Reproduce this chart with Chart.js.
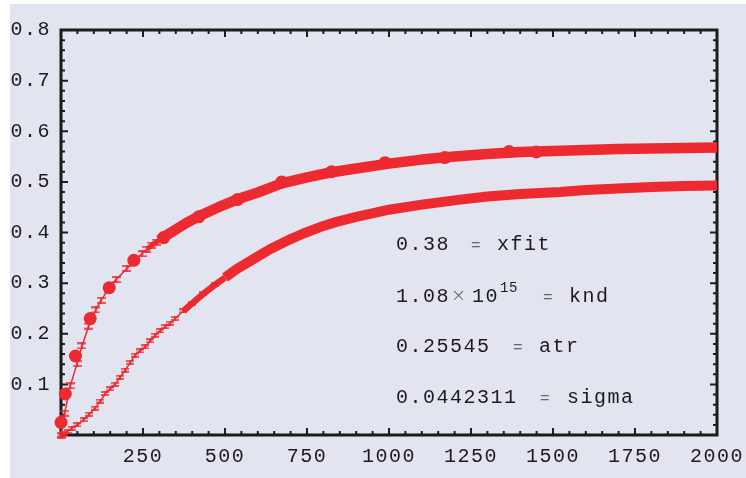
<!DOCTYPE html>
<html>
<head>
<meta charset="utf-8">
<script src="https://cdn.jsdelivr.net/npm/chart.js@4/dist/chart.umd.min.js"></script>
<style>
  html, body { margin: 0; padding: 0; background: #ffffff; }
  canvas { display: block; }
</style>
</head>
<body>
<canvas id="c" width="746" height="478" style="width:746px;height:478px"></canvas>
<script>
// Measured points (filled circles)
const measuredX = [0, 13, 44, 89, 147, 222, 313, 420, 538, 673, 825, 988, 1170, 1366, 1449];
const measuredY = [0.025, 0.081, 0.156, 0.230, 0.291, 0.345, 0.390, 0.431, 0.465, 0.500, 0.520, 0.538, 0.548, 0.560, 0.559];

// Upper fitted curve, sampled where its error bars sit
const upperX = [0, 11, 28, 49, 64, 84, 106, 122, 145, 168, 201, 225, 247, 262, 277, 290, 300, 315, 338, 380, 420, 480, 540, 600, 673, 750, 825, 925, 1000, 1100, 1200, 1300, 1400, 1500, 1600, 1700, 1800, 1900, 2000];
const upperY = [0.000, 0.043, 0.097, 0.141, 0.176, 0.215, 0.247, 0.266, 0.288, 0.307, 0.329, 0.344, 0.358, 0.367, 0.375, 0.381, 0.385, 0.392, 0.401, 0.418, 0.432, 0.450, 0.466, 0.479, 0.497, 0.509, 0.519, 0.529, 0.536, 0.544, 0.550, 0.555, 0.559, 0.561, 0.563, 0.565, 0.566, 0.567, 0.568];

// Lower fitted curve
const lowerX = [0, 10, 20, 33, 50, 69, 86, 104, 120, 135, 150, 165, 180, 196, 211, 226, 241, 257, 272, 287, 303, 318, 333, 348, 373, 400, 434, 470, 500, 536, 580, 637, 700, 739, 800, 840, 900, 942, 1000, 1100, 1217, 1300, 1400, 1522, 1600, 1700, 1800, 1900, 2000];
const lowerY = [0.000, 0.003, 0.007, 0.013, 0.020, 0.030, 0.041, 0.053, 0.067, 0.082, 0.091, 0.100, 0.114, 0.128, 0.143, 0.158, 0.166, 0.174, 0.186, 0.197, 0.206, 0.214, 0.221, 0.230, 0.245, 0.260, 0.279, 0.297, 0.311, 0.328, 0.345, 0.367, 0.387, 0.398, 0.413, 0.421, 0.431, 0.437, 0.445, 0.455, 0.465, 0.471, 0.476, 0.480, 0.484, 0.487, 0.490, 0.492, 0.493];

// Fit parameters printed inside the frame
const paramValues = ['0.38', '1.08', '0.25545', '0.0442311'];
const paramExponents = ['', '15', '', ''];
const paramNames = ['xfit', 'knd', 'atr', 'sigma'];

const RED = '#ec2a30';
const INK = '#1c1c1c';
const PANEL = '#e2e4f0';
const FONT = '"Liberation Mono", "DejaVu Sans Mono", monospace';

// Beyond these x values the error bars merge into a solid band
const UPPER_BAND_FROM = 262;
const UPPER_SOLID_FROM = 300;
const LOWER_BAND_FROM = 350;
const LOWER_SOLID_FROM = 500;

function errorBarMark(w, h) {
  const c = document.createElement('canvas');
  c.width = w; c.height = h;
  const g = c.getContext('2d');
  g.strokeStyle = RED;
  g.lineWidth = 1.6;
  g.beginPath();
  g.moveTo(0, 1); g.lineTo(w, 1);
  g.moveTo(0, h - 1); g.lineTo(w, h - 1);
  g.moveTo(w / 2, 0); g.lineTo(w / 2, h);
  g.stroke();
  return c;
}
const upperMark = errorBarMark(9, 7);
const lowerMark = errorBarMark(8, 5);

const zip = (xs, ys) => xs.map((x, i) => ({ x, y: ys[i] }));

// Panel background, frame and inward ticks on all four sides
const framePlugin = {
  id: 'frame',
  beforeDraw(chart) {
    const ctx = chart.ctx;
    ctx.save();
    ctx.fillStyle = '#ffffff';
    ctx.fillRect(0, 0, chart.width, chart.height);
    ctx.fillStyle = PANEL;
    ctx.fillRect(10, 4, chart.width - 10, chart.height - 4);
    ctx.restore();
    ctx.letterSpacing = '1.5px';
  },
  beforeDatasetsDraw(chart) {
    const ctx = chart.ctx;
    const a = chart.chartArea;
    const xs = chart.scales.x, ys = chart.scales.y;
    ctx.save();
    ctx.letterSpacing = '0px';
    ctx.strokeStyle = INK;
    ctx.lineWidth = 2;
    ctx.beginPath();
    for (let v = 0; v <= 2000; v += 50) {
      const px = xs.getPixelForValue(v);
      const len = v % 250 === 0 ? 7 : 4;
      ctx.moveTo(px, a.bottom); ctx.lineTo(px, a.bottom - len);
      ctx.moveTo(px, a.top); ctx.lineTo(px, a.top + len);
    }
    for (let k = 0; k <= 40; k++) {
      const py = ys.getPixelForValue(k * 0.02);
      const len = k % 5 === 0 ? 7 : 4;
      ctx.moveTo(a.left, py); ctx.lineTo(a.left + len, py);
      ctx.moveTo(a.right, py); ctx.lineTo(a.right - len, py);
    }
    ctx.stroke();
    ctx.lineWidth = 3;
    ctx.strokeRect(a.left, a.top, a.right - a.left, a.bottom - a.top);
    ctx.restore();
  },
  afterDraw(chart) {
    const ctx = chart.ctx;
    ctx.save();
    ctx.fillStyle = INK;
    ctx.textBaseline = 'alphabetic';
    const x0 = 396;
    const baselines = [250, 301.5, 351.5, 402.5];
    const eqX = [471, 543, 513, 540];
    const nameX = [497, 569, 539, 567];
    for (let i = 0; i < paramValues.length; i++) {
      const b = baselines[i];
      ctx.font = '20px ' + FONT;
      ctx.letterSpacing = '1.5px';
      ctx.fillStyle = INK;
      ctx.fillText(paramValues[i], x0, b);
      if (paramExponents[i]) {
        ctx.letterSpacing = '0px';
        ctx.font = '300 18px "DejaVu Sans", sans-serif';
        ctx.fillStyle = '#555';
        ctx.fillText('\u00d7', 451, b - 1);
        ctx.font = '20px ' + FONT;
        ctx.letterSpacing = '1.5px';
        ctx.fillStyle = INK;
        ctx.fillText('10', 472, b);
        ctx.font = '14px ' + FONT;
        ctx.letterSpacing = '0.5px';
        ctx.fillText(paramExponents[i], 500, b - 10);
      }
      ctx.letterSpacing = '0px';
      ctx.font = '16px ' + FONT;
      ctx.fillStyle = '#666';
      ctx.fillText('=', eqX[i], b);
      ctx.font = '20px ' + FONT;
      ctx.letterSpacing = '1.5px';
      ctx.fillStyle = INK;
      ctx.fillText(paramNames[i], nameX[i], b);
    }
    ctx.restore();
    ctx.letterSpacing = '0px';
  }
};

new Chart(document.getElementById('c'), {
  type: 'scatter',
  data: {
    datasets: [
      {
        label: 'lower fit',
        data: zip(lowerX, lowerY),
        showLine: true,
        borderColor: RED,
        backgroundColor: RED,
        borderWidth: 1.5,
        borderCapStyle: 'butt',
        borderJoinStyle: 'round',
        tension: 0,
        pointStyle: lowerMark,
        pointRadius: c => (c.parsed && c.parsed.x < LOWER_SOLID_FROM ? 4 : 0),
        segment: {
          borderWidth: c => c.p0.parsed.x >= LOWER_SOLID_FROM ? 10 : (c.p0.parsed.x >= LOWER_BAND_FROM ? 6.5 : 1.5)
        },
        clip: { left: 10, top: 10, right: 0, bottom: 10 },
        order: 3
      },
      {
        label: 'upper fit',
        data: zip(upperX, upperY),
        showLine: true,
        borderColor: RED,
        backgroundColor: RED,
        borderWidth: 1.5,
        borderCapStyle: 'butt',
        borderJoinStyle: 'round',
        tension: 0,
        pointStyle: upperMark,
        pointRadius: c => (c.parsed && c.parsed.x < UPPER_SOLID_FROM ? 4 : 0),
        segment: {
          borderWidth: c => c.p0.parsed.x >= UPPER_SOLID_FROM ? 10.5 : (c.p0.parsed.x >= UPPER_BAND_FROM ? 5 : 1.5)
        },
        clip: { left: 10, top: 10, right: 0, bottom: 10 },
        order: 2
      },
      {
        label: 'measured',
        data: zip(measuredX, measuredY),
        pointStyle: 'circle',
        pointRadius: 6.5,
        pointBackgroundColor: RED,
        pointBorderWidth: 0,
        borderColor: RED,
        clip: false,
        order: 1
      }
    ]
  },
  options: {
    responsive: false,
    animation: false,
    devicePixelRatio: 1,
    layout: { padding: { top: 30, right: 29, left: 0, bottom: 0 } },
    plugins: { legend: { display: false }, tooltip: { enabled: false } },
    scales: {
      x: {
        type: 'linear',
        min: 0, max: 2000,
        grid: { display: false, drawTicks: false },
        border: { display: false },
        ticks: {
          stepSize: 250,
          padding: 10,
          color: INK,
          font: { family: FONT, size: 20 },
          maxRotation: 0,
          callback: v => (v === 0 ? '' : String(v))
        },
        afterFit: s => { s.height = 43; s.paddingLeft = 0; s.paddingRight = 0; }
      },
      y: {
        type: 'linear',
        min: 0, max: 0.8,
        grid: { display: false, drawTicks: false },
        border: { display: false },
        ticks: {
          stepSize: 0.1,
          padding: 10,
          color: INK,
          font: { family: FONT, size: 20 },
          callback: v => (Math.abs(v) < 1e-9 ? '' : v.toFixed(1))
        },
        afterFit: s => { s.width = 61; s.paddingTop = 0; s.paddingBottom = 0; }
      }
    }
  },
  plugins: [framePlugin]
});
</script>
</body>
</html>
